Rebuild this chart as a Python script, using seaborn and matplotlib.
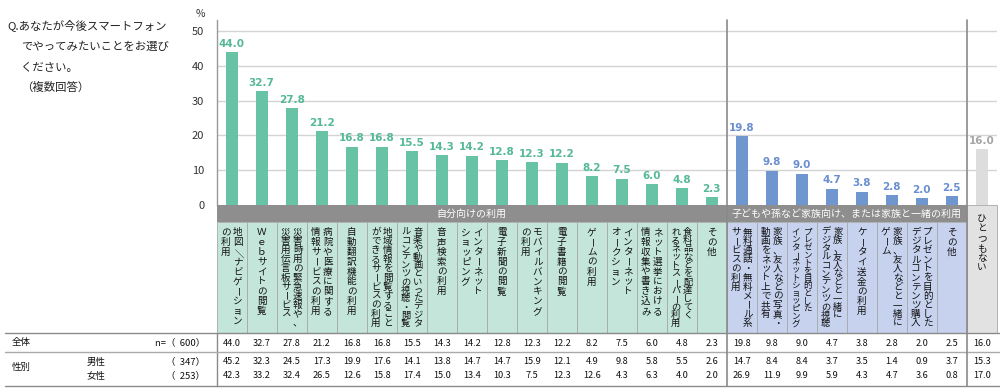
import matplotlib
matplotlib.use("Agg")
import numpy as np
import pandas as pd
import matplotlib.pyplot as plt
import seaborn as sns
from matplotlib.patches import Rectangle
from matplotlib.transforms import blended_transform_factory

# question text
question = ["Q.あなたが今後スマートフォン", "でやってみたいことをお選び", "ください。", "（複数回答）"]

# category labels, each split into vertical columns (right column first)
labels = [
    ["地図／ナビゲーション", "の利用"],
    ["Ｗｅｂサイトの閲覧"],
    ["災害時用の緊急速報や、", "災害用伝言板サービス"],
    ["病院や医療に関する", "情報サービスの利用"],
    ["自動翻訳機能の利用"],
    ["地域情報を閲覧すること", "ができるサービスの利用"],
    ["音楽や動画といったデジタ", "ルコンテンツの視聴・閲覧"],
    ["音声検索の利用"],
    ["インターネット", "ショッピング"],
    ["電子新聞の閲覧"],
    ["モバイルバンキング", "の利用"],
    ["電子書籍の閲覧"],
    ["ゲームの利用"],
    ["インターネット", "オークション"],
    ["ネット選挙における", "情報収集や書き込み"],
    ["食料品などを配達してく", "れるネットスーパーの利用"],
    ["その他"],
    ["無料通話・無料メール系", "サービスの利用"],
    ["家族、友人などの写真・", "動画をネット上で共有"],
    ["プレゼントを目的とした", "インターネットショッピング"],
    ["家族、友人などと一緒に", "デジタルコンテンツの視聴"],
    ["ケータイ送金の利用"],
    ["家族、友人などと一緒に", "ゲーム"],
    ["プレゼントを目的とした", "デジタルコンテンツ購入"],
    ["その他"],
    ["ひとつもない"],
]
groups = ["self"] * 17 + ["family"] * 8 + ["none"]
group_names = {"self": "自分向けの利用",
               "family": "子どもや孫など家族向け、または家族と一緒の利用"}

total = [44.0, 32.7, 27.8, 21.2, 16.8, 16.8, 15.5, 14.3, 14.2, 12.8, 12.3, 12.2, 8.2, 7.5, 6.0, 4.8, 2.3,
         19.8, 9.8, 9.0, 4.7, 3.8, 2.8, 2.0, 2.5,
         16.0]
male = [45.2, 32.3, 24.5, 17.3, 19.9, 17.6, 14.1, 13.8, 14.7, 14.7, 15.9, 12.1, 4.9, 9.8, 5.8, 5.5, 2.6,
        14.7, 8.4, 8.4, 3.7, 3.5, 1.4, 0.9, 3.7,
        15.3]
female = [42.3, 33.2, 32.4, 26.5, 12.6, 15.8, 17.4, 15.0, 13.4, 10.3, 7.5, 12.3, 12.6, 4.3, 6.3, 4.0, 2.0,
          26.9, 11.9, 9.9, 5.9, 4.3, 4.7, 3.6, 0.8,
          17.0]
row_titles = ["全体", "性別", ""]
row_subs = ["", "男性", "女性"]
row_ns = ["n=（  600）", "（  347）", "（  253）"]

bar_col = {"self": "#67c2a6", "family": "#7096d0", "none": "#dddddd"}
txt_col = {"self": "#55b995", "family": "#6a8fd0", "none": "#a6a6a6"}
cell_col = {"self": "#c3e5da", "family": "#c6d2ee", "none": "#e2e2e2"}

sns.set_theme(style="white")
plt.rcParams['font.family'] = ['Noto Sans CJK JP', 'DejaVu Sans']

W, H = 1000, 388
fig = plt.figure(figsize=(10, 3.88), dpi=100)
ax = fig.add_axes([216.7 / W, 1 - 205 / H, 780 / W, 185 / H])

n = len(total)
df = pd.DataFrame({"idx": range(n), "value": total, "group": groups})
sns.barplot(data=df, x="idx", y="value", hue="group", palette=bar_col, dodge=False,
            width=0.39, linewidth=0, saturation=1, legend=False, ax=ax, zorder=3)
ax.set_xlim(-0.5, n - 0.5)
ax.set_ylim(0, 53.2)
ax.set_yticks([0, 10, 20, 30, 40, 50])
ax.set_xticks([])
ax.set_xlabel("")
ax.set_ylabel("")
ax.tick_params(axis="y", length=0, pad=9, labelsize=8, labelcolor="#333333")
for y in [10, 20, 30, 40, 50]:
    ax.axhline(y, color="#d4d4d4", lw=1, zorder=1)
for s in ["top", "right", "bottom"]:
    ax.spines[s].set_visible(False)
ax.spines["left"].set_color("#999999")
ax.spines["left"].set_linewidth(1)

for i, (v, g) in enumerate(zip(total, groups)):
    ax.text(i, v + 1.0, f"{v:.1f}", ha="center", va="bottom", fontsize=7.5,
            fontweight="bold", color=txt_col[g], family="DejaVu Sans")

# overlay axes in pixel coordinates (y from top)
ov = fig.add_axes([0, 0, 1, 1], zorder=5)
ov.set_xlim(0, W)
ov.set_ylim(H, 0)
ov.axis("off")
tr = blended_transform_factory(ax.transData, ov.transData)

ov.text(200, 14, "%", ha="center", va="center", fontsize=7.5, color="#333333")
ov.text(7, 25, question[0], ha="left", va="center", fontsize=8.2, color="#222222")
for k, line in enumerate(question[1:]):
    ov.text(21, [47, 68, 87][k], line, ha="left", va="center", fontsize=8.2, color="#222222")

# label cells
for i, g in enumerate(groups):
    top = 205 if g == "none" else 222
    ov.add_patch(Rectangle((i - 0.5, top), 1, 333 - top, transform=tr,
                           facecolor=cell_col[g], edgecolor="#a8a8a8", lw=0.6))

# group band
for g in ["self", "family"]:
    idx = [i for i, gg in enumerate(groups) if gg == g]
    ov.add_patch(Rectangle((idx[0] - 0.5, 205), len(idx), 17, transform=tr,
                           facecolor="#8e8e8e", edgecolor="none"))
    ov.text((idx[0] + idx[-1]) / 2, 213.5, group_names[g], transform=tr, ha="center",
            va="center", fontsize=7.2, color="white")

# vertical category text
rot_chars = {"ー": -90, "／": -90, "－": -90}
for i, cols in enumerate(labels):
    nmax = max(len(c) for c in cols)
    pitch = min(9.8, 100 / nmax)
    fs = min(6.9, pitch * 0.8)
    ncol = len(cols)
    for j, col in enumerate(cols):
        xo = 0.0 if ncol == 1 else (0.2 if j == 0 else -0.2)
        y0 = 228 + pitch / 2
        if groups[i] == "none":
            y0 = 214 + pitch / 2
        for k, ch in enumerate(col):
            ov.text(i + xo, y0 + k * pitch, ch, transform=tr, ha="center", va="center",
                    fontsize=fs, color="#111111", rotation=rot_chars.get(ch, 0))

# separators
for xs in [16.5, 24.5]:
    ov.plot([xs, xs], [20, 386], transform=tr, color="#8a8a8a", lw=1.2, zorder=6)
ov.plot([-0.5, -0.5], [333, 386], transform=tr, color="#8a8a8a", lw=1)

# table lines
for yl, c in [(333, "#8a8a8a"), (352, "#aaaaaa"), (386, "#8a8a8a")]:
    ov.plot([5, W], [yl, yl], color=c, lw=1)

# table texts
row_y = [343, 362, 376]
for r, vals in enumerate([total, male, female]):
    y = row_y[r]
    ov.text(12, 367 if r == 1 else y, row_titles[r], ha="left", va="center",
            fontsize=6.8, color="#111111")
    ov.text(87, y, row_subs[r], ha="left", va="center", fontsize=6.8, color="#111111")
    ov.text(205, y, row_ns[r], ha="right", va="center", fontsize=6.8, color="#111111")
    for i, v in enumerate(vals):
        ov.text(i, y, f"{v:.1f}", transform=tr, ha="center", va="center",
                fontsize=6.6, color="#111111")

fig.savefig("out.png", dpi=100)
